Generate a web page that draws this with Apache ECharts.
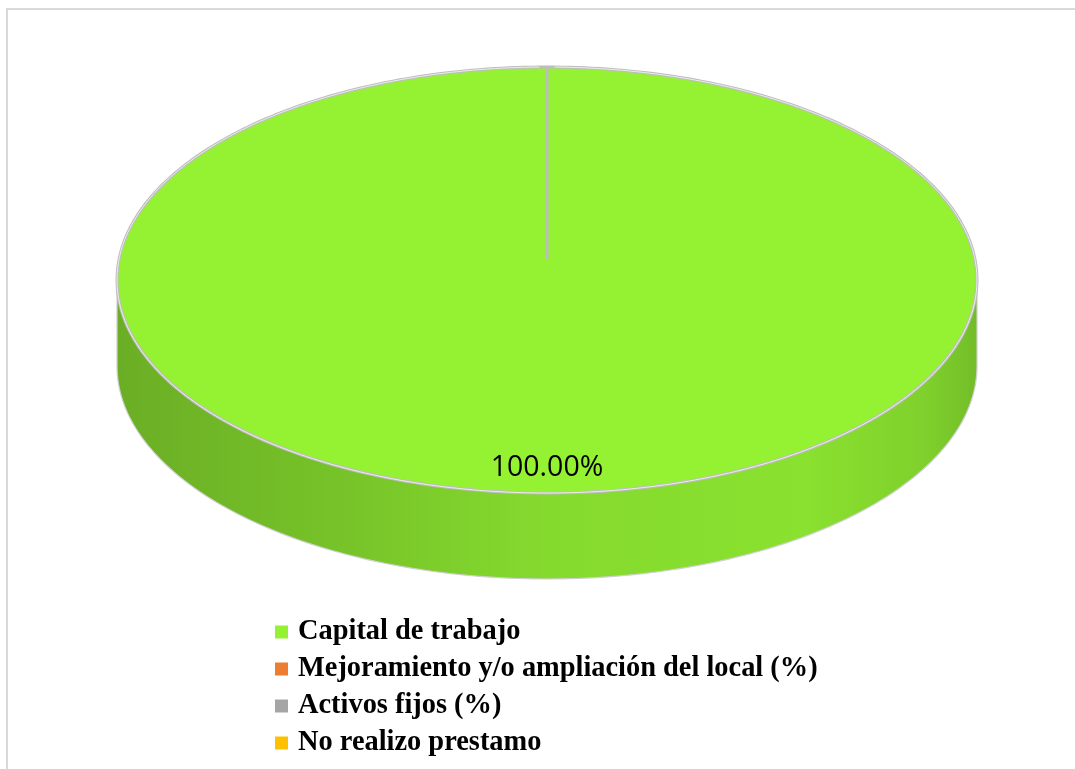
<!DOCTYPE html>
<html>
<head>
<meta charset="utf-8">
<script src="https://cdn.jsdelivr.net/npm/echarts@6/dist/echarts.min.js"></script>
<style>
  html, body { margin: 0; padding: 0; background: #ffffff; }
  #chart { width: 1075px; height: 769px; }
</style>
</head>
<body>
<div id="chart"></div>
<script>
// ---- data ----
const categories = [
  'Capital de trabajo',
  'Mejoramiento y/o ampliación del local (%)',
  'Activos fijos (%)',
  'No realizo prestamo'
];
const values = [100, 0, 0, 0];
const colors = ['#94f233', '#ed7d31', '#a5a5a5', '#ffc000'];

// ---- derived ----
const total = values.reduce((a, b) => a + b, 0);
const starts = [];
values.reduce((acc, v, i) => { starts[i] = acc; return acc + v; }, 0);

// ---- layout (3D pie geometry) ----
const G = { cx: 547, cy: 280, rx: 430, ry: 213, depth: 86, cyc: 258, labelK: 0.88 };

function pt(deg, dy) {
  const a = deg * Math.PI / 180;
  return [G.cx + G.rx * Math.sin(a), G.cy - G.ry * Math.cos(a) + (dy || 0)];
}
function arc(d0, d1, dy) {
  const pts = [];
  const n = Math.max(2, Math.ceil(Math.abs(d1 - d0)));
  for (let k = 0; k <= n; k++) pts.push(pt(d0 + (d1 - d0) * k / n, dy));
  return pts;
}
function shade(hex, f) {
  const c = echarts.color.parse(hex);
  return 'rgb(' + [0, 1, 2].map(i => Math.min(255, Math.round(c[i] * f))).join(',') + ')';
}

function renderItem(params, api) {
  const v = api.value(0), s = api.value(1);
  const color = api.visual('color');
  const children = [];
  if (!(v > 0) || !(total > 0)) return { type: 'group', children: [] };
  const a0 = s / total * 360, a1 = (s + v) / total * 360;

  // side (front visible part: 90..270 deg)
  const ss = Math.max(a0, 90), ee = Math.min(a1, 270);
  if (ss < ee) {
    const pts = arc(ss, ee, 0).concat(arc(ee, ss, G.depth));
    children.push({
      type: 'polygon', z2: 1,
      shape: { points: pts },
      style: {
        fill: new echarts.graphic.LinearGradient(0, 0, 1, 0, [
          { offset: 0, color: shade(color, 0.72) },
          { offset: 0.25, color: shade(color, 0.8) },
          { offset: 0.5, color: shade(color, 0.9) },
          { offset: 0.8, color: shade(color, 0.93) },
          { offset: 0.94, color: shade(color, 0.86) },
          { offset: 1, color: shade(color, 0.78) }
        ]),
        stroke: '#d0d0d0', lineWidth: 1.2
      }
    });
  }
  // top face
  const topPts = [[G.cx, G.cyc]].concat(arc(a0, a1, 0));
  children.push({
    type: 'polygon', z2: 10,
    shape: { points: topPts },
    style: { fill: color, stroke: '#bdbdbd', lineWidth: 3, lineJoin: 'round' }
  });
  // white highlight along rim
  children.push({
    type: 'polyline', z2: 11,
    shape: { points: arc(Math.max(a0, 0) + 1, a1 - 1, 0) },
    style: { fill: null, stroke: '#ececec', lineWidth: 1 }
  });
  // data label
  const mid = (a0 + a1) / 2 * Math.PI / 180;
  children.push({
    type: 'text', z2: 20,
    x: G.cx + G.rx * G.labelK * Math.sin(mid),
    y: G.cy - G.ry * G.labelK * Math.cos(mid),
    style: {
      text: (v / total * 100).toFixed(2) + '%',
      fontFamily: 'Open Sans', fontSize: 28.5, fill: '#000',
      align: 'center', verticalAlign: 'middle'
    }
  });
  return { type: 'group', children: children };
}

const chart = echarts.init(document.getElementById('chart'), null, { renderer: 'canvas' });
chart.setOption({
  backgroundColor: '#ffffff',
  animation: false,
  color: colors,
  legend: {
    orient: 'vertical',
    left: 275, top: 618,
    padding: 0,
    icon: 'rect',
    itemWidth: 13, itemHeight: 13,
    itemGap: 9,
    selectedMode: false,
    textStyle: {
      fontFamily: 'Liberation Serif', fontWeight: 'bold',
      fontSize: 28.4, lineHeight: 28, color: '#000', padding: [0, 0, 0, 5]
    },
    data: categories
  },
  graphic: [{
    type: 'rect', silent: true,
    shape: { x: 7, y: 9, width: 1200, height: 900 },
    style: { fill: null, stroke: '#d9d9d9', lineWidth: 2 }
  }],
  series: categories.map((name, i) => ({
    type: 'custom',
    name: name,
    coordinateSystem: 'none',
    renderItem: renderItem,
    itemStyle: { color: colors[i] },
    data: [[values[i], starts[i]]]
  }))
});
</script>
</body>
</html>
